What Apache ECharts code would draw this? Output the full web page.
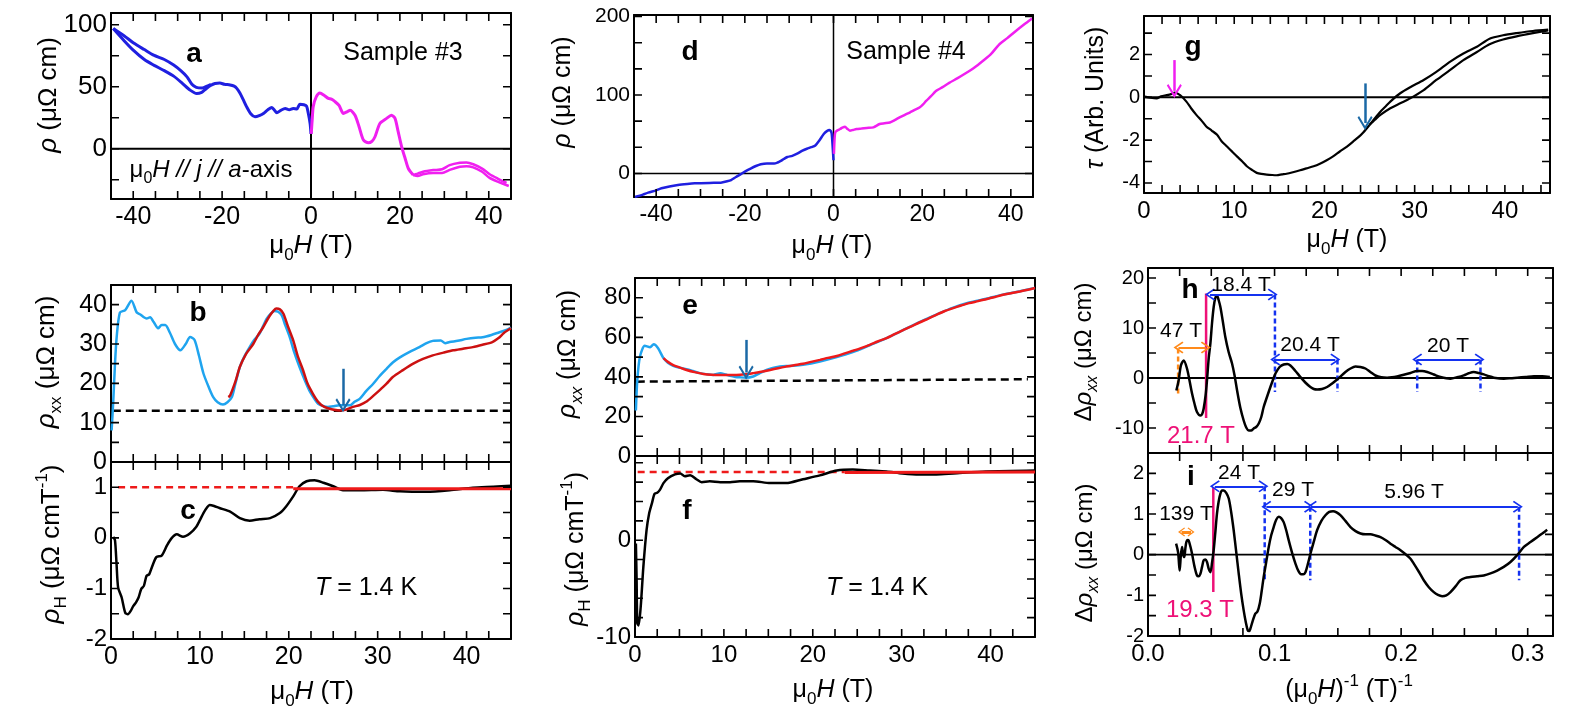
<!DOCTYPE html>
<html>
<head>
<meta charset="utf-8">
<script src="https://cdn.jsdelivr.net/npm/echarts@6.0.0/dist/echarts.min.js"></script>
<style>
  html, body { margin: 0; padding: 0; background: #fff; }
  #main { width: 1592px; height: 719px; }
</style>
</head>
<body>
<div id="main"></div>
<script>
// ---------- data ----------
// a: rho vs field, sample #3
const aBlueUpper = [[-44.5,97],[-42,91],[-40,85.5],[-37.5,80],[-35.4,75.5],[-33,72],[-30.9,67.5],[-29.3,63],[-27.9,58],[-26.8,52],[-25.8,49.5],[-24.5,49],[-23.4,50.5],[-22.5,52]]
const aBlueLower = [[-44.5,97],[-42,87],[-40,79.6],[-37.5,72],[-35.4,67.5],[-33,63],[-30.9,58.6],[-29,53],[-27.2,47.3],[-25.7,44.6],[-24.6,45.5],[-23.8,47.8],[-22.6,51],[-21.6,52.7],[-20.5,53],[-19.5,52],[-18.2,51.5],[-17.3,50.5],[-16.7,48.7],[-16,45],[-15.3,40],[-14.5,34],[-13.5,28],[-12.6,25.8],[-11.5,27],[-10.7,28.5],[-9.7,31.5],[-8.8,33.3],[-8.2,31],[-7.7,29],[-6.8,31],[-5.8,32.5],[-4.9,31.5],[-4.0,32.5],[-3.2,32],[-2.5,36],[-1.6,35.5],[-1.0,34.4],[-0.6,28.5],[-0.2,20.4],[0,12]]
const aPinkMain = [[0.05,12],[0.3,25],[0.5,34],[1.2,42],[2.0,45],[3.0,43],[3.9,40.6],[4.6,40],[5.4,38],[6.3,35],[7.3,28.5],[8.2,30],[8.8,31],[9.9,27],[10.8,18],[11.8,7],[12.9,4.8],[13.7,6],[14.4,9.7],[15.5,20.4],[17.0,24.5],[18.1,27],[18.9,24.5],[19.6,14],[20.4,1.6],[21.2,-8],[21.9,-15.9],[23.0,-21.2]]
const aPinkUpper = [[23.0,-21.2],[24,-20],[25.2,-18.5],[27.5,-17.2],[29.5,-16.5],[31.2,-13.2],[33.5,-11.3],[35,-11],[36.5,-12.5],[38.5,-16],[40.2,-20.5],[42,-24],[44,-27.5]]
const aPinkLower = [[23.0,-21.2],[24,-22],[25.2,-20.5],[27.5,-19.5],[29.5,-19.5],[31.2,-17],[33.5,-14.5],[35,-14],[36.5,-15],[38.5,-18.5],[40.2,-23.5],[42,-26.5],[44.5,-30]]

// b: rho_xx
const bBlue = [[0.07,8],[0.26,15.7],[0.45,25],[0.64,31.8],[1.0,38],[1.6,38.6],[2.3,41],[2.9,38],[3.3,37.5],[3.7,36.8],[4.0,36.5],[4.4,36.8],[4.8,35.6],[5.3,34],[5.7,34.8],[6.1,34.8],[6.6,33],[7.2,30],[7.8,28.4],[8.4,30],[8.9,31.8],[9.4,31],[9.9,27],[10.4,22.5],[11.0,19],[11.5,16.5],[12.0,15.2],[12.6,14.6],[13.1,15.2],[13.6,16.5],[14.0,20],[14.5,24.2],[15.0,26.8],[15.6,29.2],[16.1,31],[16.7,32.6],[17.1,34.5],[17.5,36.4],[18.0,37.8],[18.4,38.4],[18.8,38.2],[19.2,37.3],[19.6,34.8],[20.1,31.8],[20.6,28],[21.2,24.2],[21.8,20.8],[22.4,17.8],[22.9,16],[23.3,14.8],[23.9,14.2],[24.4,14],[25.0,14.2],[25.7,14.4],[26.3,14.4],[26.9,14.4],[27.4,15.3],[28.0,16.1],[28.7,18],[29.5,19.9],[30.2,21.8],[31.0,23.7],[31.7,25.3],[32.5,26.6],[33.6,28],[34.7,29.2],[35.5,30.2],[36.2,30.8],[37.1,30.9],[37.6,30.2],[38.1,30.5],[39.0,30.8],[40.0,31.3],[41.0,31.6],[41.8,31.7],[42.8,32.3],[43.7,33],[44.4,33.5],[45,34.2]]
const bRed = [[13.2,16.5],[13.4,16.9],[14.0,20.5],[14.5,24.2],[15.2,27.5],[16.0,30],[16.6,32.5],[17.1,34.2],[17.8,37],[18.3,38.5],[18.6,39],[19.0,38.8],[19.4,37.7],[19.9,34.5],[20.5,30.9],[21.0,27],[21.6,23.4],[22.1,20],[22.7,17.4],[23.3,15.3],[24.0,14],[24.8,13.4],[25.7,13.1],[26.4,13.3],[27.2,14],[28.0,14.5],[28.7,15.3],[29.5,16.8],[30.2,18.2],[31.0,19.9],[31.7,21.6],[32.8,23.3],[34.0,25],[35.1,26.2],[36.2,27.1],[37.4,27.8],[38.5,28.4],[39.6,28.8],[40.7,29.2],[41.8,29.8],[42.9,30.5],[43.6,31.5],[44.2,32.8],[45,34]]
const bBaseline = [[0.2,13],[45,13]]
const bArrow = [[26.1,23.7],[26.1,14.4]]

// c: Hall
const cBlack = [[0.26,0.02],[0.45,-0.05],[0.62,-0.5],[0.8,-0.98],[1.2,-1.18],[1.6,-1.48],[1.9,-1.51],[2.2,-1.45],[2.5,-1.35],[2.8,-1.28],[3.1,-1.18],[3.4,-1.01],[3.7,-0.95],[4.0,-0.75],[4.3,-0.72],[4.6,-0.58],[5.1,-0.38],[5.7,-0.35],[6.3,-0.15],[6.8,-0.01],[7.4,0.07],[8.1,0.02],[8.9,0.09],[9.6,0.22],[10.0,0.35],[10.4,0.49],[10.8,0.6],[11.1,0.65],[11.6,0.63],[12.2,0.59],[13.4,0.52],[14.5,0.39],[15.6,0.34],[16.7,0.37],[17.9,0.39],[19.0,0.49],[19.7,0.62],[20.5,0.82],[21.2,1.02],[22.0,1.12],[22.9,1.14],[23.9,1.09],[25.0,1.02],[26.1,0.94],[28.0,0.94],[30.6,0.95],[32.5,0.92],[35.5,0.91],[38.1,0.94],[40.7,0.99],[43,1.01],[45,1.03]]
const cFitDashed = [[0.8,1.0],[20.5,1.0]]
const cFitSolid = [[20.5,0.97],[45,0.97]]

// d: rho vs field, sample #4
const dBlue = [[-44.8,-30],[-43,-27],[-41.8,-24.4],[-40,-21.5],[-38.8,-18.9],[-37,-16.5],[-35.1,-14.7],[-33,-13.4],[-31.3,-12.6],[-28,-12],[-25.4,-11.8],[-24,-10],[-23.1,-8.4],[-22,-4.5],[-20.9,-0.8],[-19.8,3],[-18.7,6.3],[-17.5,9.5],[-16.4,11.8],[-15,12.8],[-13.4,12.6],[-12.6,14],[-11.9,16],[-11.2,18.5],[-10.4,21],[-9.3,22.5],[-8.2,25.2],[-7,29],[-6.0,31.5],[-5,33.5],[-4.1,35.7],[-3.2,42],[-2.2,50.4],[-1.5,54],[-0.9,55.5],[-0.6,54],[-0.4,50.4],[-0.2,35],[0,16.8]]
const dPink = [[0.1,25],[0.25,45],[0.4,52.5],[0.9,55],[1.5,56.7],[2.0,58.5],[2.6,59.7],[3.1,57],[3.7,54.6],[4.4,55.5],[5.2,56.7],[6.3,57.3],[7.5,58],[9.0,58.8],[10.4,63],[11.5,64],[12.7,65],[13.8,68],[14.9,71.4],[16,74.5],[17.2,77.7],[18.3,81],[19.4,84],[20.2,88],[20.9,92.4],[22,98.5],[23.1,105],[24.6,110],[26.1,115.5],[28,121.5],[29.9,128],[31.8,135],[33.6,143],[35.5,152],[37.3,164],[39.2,172.5],[41.0,181],[42.9,189.5],[44.8,197.5]]

// e: rho_xx, sample #4
const eBlue = [[0.1,23],[0.26,38.5],[0.56,50.3],[1.1,55.7],[1.7,55],[2.1,56.5],[2.6,54.5],[3.2,49.5],[3.7,47.2],[4.3,45.6],[5.0,44.7],[5.8,43.9],[6.5,43],[7.3,41.9],[8.0,41.4],[8.8,41],[9.6,41.9],[10.2,41.2],[10.7,40.5],[11.3,40],[11.8,39.8],[12.5,39.6],[13.3,40.2],[14.0,41.8],[14.8,43.5],[15.5,44.5],[16.3,45.2],[17.0,45.5],[17.8,45.6],[18.9,46.1],[20.8,47.8],[22.7,50],[24.5,52.5],[26.4,56],[28.3,59.6],[30.1,63.5],[32.0,67.7],[33.9,71.5],[35.8,75],[37.6,77.6],[39.5,79.5],[41.4,81.6],[43.3,83.3],[45,84.9]]
const eRed = [[3.2,49.5],[3.7,47.6],[4.3,46],[5.0,44.8],[5.8,43.5],[6.7,42.4],[7.7,41.5],[8.6,41.1],[9.6,41],[10.5,41],[11.4,41],[12.4,41.3],[13.3,41.9],[14.2,42.6],[15.2,43.5],[16.1,44.4],[17.0,45.2],[17.9,45.9],[18.9,46.6],[19.8,47.6],[20.8,48.6],[21.7,49.6],[22.7,50.6],[23.6,51.9],[24.5,53.2],[25.5,54.7],[26.4,56.2],[27.3,57.9],[28.3,59.6],[29.2,61.6],[30.1,63.5],[31.1,65.5],[32.0,67.5],[33.0,69.5],[33.9,71.4],[34.8,73.2],[35.8,74.8],[36.7,76.1],[37.6,77.3],[38.6,78.3],[39.5,79.3],[40.5,80.4],[41.4,81.5],[42.4,82.4],[43.3,83.2],[44.2,84.1],[45,84.9]]
const eBaseline = [[0.2,37.6],[44.2,38.8]]
const eArrow = [[12.5,58.7],[12.5,42.2]]

// f: Hall, sample #4
const fBlack = [[0.1,-0.34],[0.18,-4],[0.26,-8.6],[0.4,-8.8],[0.64,-6.9],[0.94,-2.76],[1.3,1.03],[1.6,2.8],[1.9,3.8],[2.2,4.8],[2.5,4.9],[2.8,5.2],[3.2,5.9],[3.7,6.4],[4.5,6.8],[5.1,6.9],[5.6,6.6],[6.2,6.7],[6.9,6.3],[7.5,6.0],[8.4,6.1],[9.6,6.0],[10.7,6.0],[11.8,6.1],[13.3,6.1],[15.2,5.9],[17.0,5.9],[18.9,6.3],[20.8,6.7],[22.7,7.2],[24.5,7.3],[26.4,7.2],[28.3,7.1],[30.1,6.9],[32.0,6.8],[33.9,6.8],[35.8,6.9],[39.5,7.1],[45,7.2]]
const fFitDashed = [[0.3,7.05],[23.6,7.05]]
const fFitSolid = [[23.6,7.0],[45,7.05]]

// g: torque
const gCommon = [[0.1,0.03],[0.7,-0.02],[1.4,-0.05],[1.9,0.05],[2.5,0.1],[3.0,0.15],[3.4,0.22],[4.0,0.1],[4.7,-0.2],[5.2,-0.5],[5.8,-0.82],[6.4,-1.1],[6.9,-1.36],[7.5,-1.55],[8.1,-1.75],[8.6,-2.05],[9.2,-2.3],[9.8,-2.55],[10.3,-2.76],[10.9,-3.0],[11.4,-3.22],[12.0,-3.4],[12.5,-3.53],[13.0,-3.58],[13.6,-3.61],[14.2,-3.63],[14.7,-3.64],[15.3,-3.6],[15.8,-3.57],[16.5,-3.5],[17.3,-3.41],[18.0,-3.32],[18.8,-3.22],[19.5,-3.1],[20.2,-2.95],[21.0,-2.75],[21.7,-2.53],[22.5,-2.3],[23.2,-2.06],[23.8,-1.85],[24.3,-1.64],[25.0,-1.29]]
const gUp = [[25.0,-1.29],[25.6,-0.97],[26.2,-0.67],[26.8,-0.42],[27.3,-0.2],[28.4,0.19],[29.5,0.47],[31.0,0.81],[32.4,1.19],[33.9,1.66],[35.4,2.05],[36.9,2.36],[38.3,2.74],[39.8,2.9],[41.3,3.0],[43.1,3.1],[44.8,3.16]]
const gLow = [[25.0,-1.29],[25.6,-1.05],[26.2,-0.82],[27.3,-0.51],[28.4,-0.28],[29.5,-0.05],[31.0,0.34],[32.4,0.81],[33.9,1.27],[35.4,1.74],[36.9,2.12],[38.3,2.48],[39.8,2.7],[41.3,2.85],[43.1,3.0],[44.8,3.13]]
const gPinkArrow = [[3.36,1.74],[3.36,0.3]]
const gBlueArrow = [[24.5,0.65],[24.5,-1.2]]

// h: oscillatory part, sample #3
const hBlack = [[0.0224,-2.5],[0.0242,-0.5],[0.026,2.5],[0.0282,3.5],[0.0308,1.9],[0.0328,-0.5],[0.0348,-3.1],[0.0368,-5.2],[0.0387,-6.8],[0.0414,-7.5],[0.0428,-7.2],[0.044,-6.1],[0.0455,-3.5],[0.0466,-0.5],[0.048,4],[0.0493,6.9],[0.0506,11],[0.0519,14.2],[0.0532,16],[0.0545,16.5],[0.0558,15.6],[0.0572,14.2],[0.059,11.5],[0.0611,8.2],[0.0637,5.2],[0.0664,2.9],[0.0684,0.5],[0.0704,-2.5],[0.073,-6],[0.0756,-8.5],[0.0776,-9.9],[0.0796,-10.5],[0.0815,-10.5],[0.0835,-10.1],[0.0855,-9.8],[0.0875,-9.1],[0.0895,-7.8],[0.0914,-5.8],[0.094,-3.8],[0.0967,-1.8],[0.0987,-0.4],[0.1007,0.9],[0.104,2.2],[0.1072,2.7],[0.11,2.8],[0.1125,2.5],[0.1165,1.4],[0.1204,0.2],[0.1243,-0.9],[0.1283,-1.8],[0.131,-2.2],[0.1336,-2.3],[0.1375,-2.2],[0.1415,-1.8],[0.1455,-1.1],[0.1494,-0.3],[0.156,1.2],[0.16,1.9],[0.1639,2.3],[0.1678,2.2],[0.1718,1.9],[0.1757,1.2],[0.1797,0.5],[0.1843,0.15],[0.1889,0.07],[0.1928,0.15],[0.1968,0.33],[0.2021,0.65],[0.2074,1.0],[0.2127,1.4],[0.2166,1.4],[0.2206,1.2],[0.2258,0.7],[0.2311,0.2],[0.239,-0.13],[0.2442,0.15],[0.2495,0.53],[0.2534,0.95],[0.2574,1.2],[0.2613,1.0],[0.2653,0.73],[0.2693,0.35],[0.2733,0.07],[0.2812,-0.13],[0.2864,-0.05],[0.2917,0.07],[0.2983,0.2],[0.3049,0.33],[0.3115,0.35],[0.3175,0.2]]
const hOrangeMark = [[0.0238,-3.1],[0.0238,6.1]]
const hOrangeArrow = [[0.0241,6.1],[0.0457,6.1]]
const hPinkMark = [[0.0459,16.9],[0.0459,-8.0]]
const hBlueArrows = [[[0.049,16.7],[0.0985,16.7]],[[0.1005,3.7],[0.148,3.7]],[[0.2127,3.7],[0.262,3.7]]]
const hBlueMarks = [[[0.1003,16.7],[0.1003,-2.8]],[[0.1497,3.7],[0.1497,-2.8]],[[0.2127,3.7],[0.2127,-2.8]],[[0.2627,3.7],[0.2627,-2.8]]]

// i: oscillatory part, sample #4
const iBlack = [[0.0222,0.27],[0.0238,0.05],[0.025,-0.39],[0.026,0.0],[0.0269,0.19],[0.0278,0.0],[0.0287,-0.06],[0.0295,0.15],[0.0303,0.31],[0.0312,0.36],[0.0321,0.35],[0.0335,0.2],[0.0348,0.02],[0.0368,-0.3],[0.0387,-0.51],[0.04,-0.53],[0.0414,-0.47],[0.0427,-0.3],[0.044,-0.14],[0.0453,-0.12],[0.0466,-0.18],[0.048,-0.35],[0.0493,-0.43],[0.0506,-0.2],[0.0519,0.11],[0.0532,0.55],[0.0545,1.01],[0.0558,1.3],[0.0572,1.5],[0.0585,1.58],[0.0598,1.58],[0.0618,1.52],[0.0638,1.38],[0.0657,1.05],[0.0677,0.6],[0.0697,0.07],[0.0717,-0.47],[0.0736,-0.95],[0.0756,-1.37],[0.0772,-1.65],[0.0788,-1.86],[0.0799,-1.88],[0.0809,-1.82],[0.0828,-1.62],[0.0848,-1.45],[0.0865,-1.4],[0.0883,-1.2],[0.0898,-0.9],[0.0914,-0.55],[0.0934,-0.18],[0.0954,0.19],[0.0973,0.47],[0.0993,0.68],[0.1013,0.86],[0.1033,0.93],[0.1052,0.9],[0.1072,0.8],[0.1092,0.6],[0.1112,0.35],[0.1138,0.05],[0.1165,-0.22],[0.1188,-0.4],[0.121,-0.48],[0.1227,-0.48],[0.1244,-0.43],[0.1264,-0.22],[0.1283,0.02],[0.131,0.32],[0.1336,0.6],[0.137,0.83],[0.1402,0.97],[0.1432,1.05],[0.1462,1.07],[0.149,1.04],[0.152,0.97],[0.156,0.83],[0.16,0.68],[0.164,0.58],[0.1679,0.52],[0.1718,0.5],[0.1758,0.5],[0.1797,0.47],[0.1837,0.43],[0.1876,0.36],[0.1916,0.27],[0.1955,0.19],[0.1995,0.11],[0.2047,-0.02],[0.2074,-0.1],[0.21,-0.22],[0.214,-0.42],[0.2179,-0.63],[0.2219,-0.8],[0.2258,-0.92],[0.2291,-0.99],[0.2324,-1.02],[0.2357,-1.0],[0.239,-0.92],[0.243,-0.78],[0.2469,-0.63],[0.2508,-0.57],[0.2548,-0.55],[0.26,-0.53],[0.2653,-0.51],[0.2706,-0.46],[0.2759,-0.39],[0.2811,-0.3],[0.2864,-0.18],[0.2917,-0.01],[0.297,0.19],[0.3022,0.31],[0.3075,0.43],[0.3115,0.52],[0.3154,0.61]]
const iOrangeArrow = [[0.0265,0.56],[0.034,0.56]]
const iPinkMark = [[0.0516,1.66],[0.0516,-0.92]]
const iBlueArrows = [[[0.0528,1.68],[0.0912,1.68]],[[0.0935,1.18],[0.1272,1.18]],[[0.1295,1.18],[0.2922,1.18]]]
const iBlueMarks = [[[0.0922,1.68],[0.0922,-0.63]],[[0.1282,1.18],[0.1282,-0.63]],[[0.2932,1.18],[0.2932,-0.63]]]

// tick labels
const aXLabels = [-40, -20, 0, 20, 40], aYLabels = [0, 50, 100]
const bYLabels = [0, 10, 20, 30, 40]
const cXLabels = [0, 10, 20, 30, 40], cYLabels = [-2, -1, 0, 1]
const dXLabels = [-40, -20, 0, 20, 40], dYLabels = [0, 100, 200]
const eYLabels = [0, 20, 40, 60, 80]
const fXLabels = [0, 10, 20, 30, 40], fYLabels = [-10, 0]
const gXLabels = [0, 10, 20, 30, 40], gYLabels = [-4, -2, 0, 2]
const hYLabels = [-10, 0, 10, 20]
const iXLabels = [0, 0.1, 0.2, 0.3], iYLabels = [-2, -1, 0, 1, 2]
const dYTicks = [0, 33.33, 66.67, 100, 133.33, 166.67, 200]

// ---------- layout ----------
const FONT = '"Liberation Sans", Arial, Helvetica, sans-serif'
const grids = [
  { left: 111, top: 13, width: 400, height: 186 },   // a
  { left: 111, top: 285, width: 400, height: 177 },  // b
  { left: 111, top: 462, width: 400, height: 177 },  // c
  { left: 634, top: 15, width: 399, height: 182 },   // d
  { left: 635, top: 278, width: 400, height: 178 },  // e
  { left: 635, top: 456, width: 400, height: 181 },  // f
  { left: 1144, top: 16, width: 406, height: 177 },  // g
  { left: 1148, top: 268, width: 405, height: 185 }, // h
  { left: 1148, top: 453, width: 405, height: 183 }  // i
].map(g => Object.assign({ outerBoundsMode: 'none', containLabel: false }, g))

function steps (a, b, st) {
  const out = []
  for (let v = a; v <= b + 1e-9; v += st) out.push(Math.round(v * 10000) / 10000)
  return out
}

const xAxes = []
const yAxes = []
const series = []
const TICK = 8

function curve (g, data, color, width, extra) {
  series.push(Object.assign({
    type: 'line', xAxisIndex: 2 * g, yAxisIndex: 2 * g, data: data, symbol: 'none', showSymbol: false,
    smooth: 0.25, silent: true, animation: false, z: 3, lineStyle: { color: color, width: width }
  }, extra || {}))
}
function seg (g, data, color, width, dash, z) {
  curve(g, data, color, width, { smooth: false, z: z || 2, lineStyle: { color: color, width: width, type: dash || 'solid' } })
}

// inward ticks on all four sides; each is a short two-point line in data space
function addTicks (g, p) {
  const gr = grids[g]
  const dy = (p.y[1] - p.y[0]) * TICK / gr.height
  const dx = (p.x[1] - p.x[0]) * TICK / gr.width
  p.xt.forEach(v => {
    seg(g, [[v, p.y[0]], [v, p.y[0] + dy]], '#000', 1.6, 'solid', 6)
    seg(g, [[v, p.y[1]], [v, p.y[1] - dy]], '#000', 1.6, 'solid', 6)
  })
  p.yt.forEach(v => {
    seg(g, [[p.x[0], v], [p.x[0] + dx, v]], '#000', 1.6, 'solid', 6)
    seg(g, [[p.x[1], v], [p.x[1] - dx, v]], '#000', 1.6, 'solid', 6)
  })
}

function addAxes (g, p) {
  const line = { show: true, onZero: false, lineStyle: { color: '#000', width: 2 } }
  const lab = (vals, fs, fmt, margin) => vals
    ? { show: true, customValues: vals, fontSize: fs, fontFamily: FONT, color: '#000', margin: margin, formatter: fmt || (v => String(v)) }
    : { show: false }
  const base = { type: 'value', gridIndex: g, splitLine: { show: false }, axisLine: line, axisTick: { show: false } }
  xAxes.push(Object.assign({}, base, { position: 'bottom', min: p.x[0], max: p.x[1], axisLabel: lab(p.xl, p.xfs, p.xfmt, 6) }))
  xAxes.push(Object.assign({}, base, { position: 'top', min: p.x[0], max: p.x[1], axisLabel: { show: false } }))
  yAxes.push(Object.assign({}, base, { position: 'left', min: p.y[0], max: p.y[1], axisLabel: lab(p.yl, p.yfs, null, 4) }))
  yAxes.push(Object.assign({}, base, { position: 'right', min: p.y[0], max: p.y[1], axisLabel: { show: false } }))
  addTicks(g, p)
}

addAxes(0, { x: [-45, 45], xt: steps(-45, 45, 5), xl: aXLabels, xfs: 25, y: [-40.5, 109.5], yt: steps(-25, 100, 25), yl: aYLabels, yfs: 26 })
addAxes(1, { x: [0, 45], xt: steps(0, 45, 2.5), xl: null, y: [0, 45], yt: steps(0, 45, 5), yl: bYLabels, yfs: 25 })
addAxes(2, { x: [0, 45], xt: steps(0, 45, 2.5), xl: cXLabels, xfs: 25, y: [-2, 1.5], yt: steps(-2, 1.5, 0.5), yl: cYLabels, yfs: 24 })
addAxes(3, { x: [-45, 45], xt: steps(-45, 45, 5), xl: dXLabels, xfs: 23, y: [-30, 202], yt: dYTicks, yl: dYLabels, yfs: 21 })
addAxes(4, { x: [0, 45], xt: steps(0, 45, 2.5), xl: null, y: [0, 90], yt: steps(0, 90, 10), yl: eYLabels, yfs: 24 })
addAxes(5, { x: [0, 45], xt: steps(0, 45, 2.5), xl: fXLabels, xfs: 24, y: [-10, 8.7], yt: steps(-10, 8, 2), yl: fYLabels, yfs: 24 })
addAxes(6, { x: [0, 45], xt: steps(0, 44, 2), xl: gXLabels, xfs: 24, y: [-4.47, 3.8], yt: steps(-4, 3, 1), yl: gYLabels, yfs: 20 })
addAxes(7, { x: [0, 0.32], xt: steps(0, 0.3, 0.025), xl: null, y: [-15, 22], yt: steps(-15, 20, 5), yl: hYLabels, yfs: 20 })
addAxes(8, { x: [0, 0.32], xt: steps(0, 0.3, 0.025), xl: iXLabels, xfs: 24, xfmt: v => v.toFixed(1), y: [-2, 2.5], yt: steps(-2, 2.5, 0.5), yl: iYLabels, yfs: 20 })

// ---------- series ----------
const HEAD = 'path://M0,0L9,11L7.2,12.4L0,3.6L-7.2,12.4L-9,11Z'
function arrow (g, pts, color, width, both, size) {
  series.push({
    type: 'line', xAxisIndex: 2 * g, yAxisIndex: 2 * g, data: pts, symbol: 'none', silent: true, animation: false,
    lineStyle: { opacity: 0 }, z: 4,
    markLine: {
      silent: true, animation: false, symbol: [both ? HEAD : 'none', HEAD], symbolSize: size || [11, 10],
      label: { show: false }, emphasis: { disabled: true },
      lineStyle: { color: color, width: width, type: 'solid', opacity: 1 },
      data: [[{ coord: pts[0] }, { coord: pts[1] }]]
    }
  })
}

const BLUE = '#1f1fe0', PINK = '#f01ff0', LBLUE = '#1fa4ef', DRED = '#cc1111', RED = '#ee1a1a'
const ARROW = '#1b69a6', ANNB = '#1432f0', ORANGE = '#ff8a1a', MAG = '#ee1177'

// a
seg(0, [[-45, 0], [45, 0]], '#000', 2)
seg(0, [[0, -40.5], [0, 109.5]], '#000', 2)
curve(0, aBlueUpper, BLUE, 3)
curve(0, aBlueLower, BLUE, 3)
curve(0, aPinkMain, PINK, 3)
curve(0, aPinkUpper, PINK, 2.5)
curve(0, aPinkLower, PINK, 2.5)
// b
seg(1, bBaseline, '#000', 2.5, [8, 5])
curve(1, bBlue, LBLUE, 2.5)
curve(1, bRed, DRED, 2.5)
arrow(1, bArrow, ARROW, 2.5, false, [15, 14])
// c
seg(2, cFitDashed, RED, 2.5, [7, 5])
curve(2, cBlack, '#000', 2.5)
seg(2, cFitSolid, RED, 3, 'solid', 4)
// d
seg(3, [[-45, 0], [45, 0]], '#000', 1.5)
seg(3, [[0, -30], [0, 202]], '#000', 1.5)
curve(3, dBlue, BLUE, 2.5)
curve(3, dPink, PINK, 2.5)
// e
seg(4, eBaseline, '#000', 2.5, [8, 5])
curve(4, eBlue, LBLUE, 2.5)
curve(4, eRed, RED, 2.5)
arrow(4, eArrow, ARROW, 2.5, false, [15, 14])
// f
seg(5, fFitDashed, RED, 2.5, [7, 5])
curve(5, fBlack, '#000', 2.5)
seg(5, fFitSolid, RED, 3, 'solid', 4)
// g
seg(6, [[0, 0], [45, 0]], '#000', 2)
curve(6, gCommon, '#000', 2.2)
curve(6, gUp, '#000', 2.2)
curve(6, gLow, '#000', 2.2)
arrow(6, gPinkArrow, PINK, 2.5, false, [15, 14])
arrow(6, gBlueArrow, ARROW, 2.5, false, [15, 14])
// h
seg(7, [[0, 0], [0.32, 0]], '#000', 1.8)
curve(7, hBlack, '#000', 2.5, { smooth: 0.3 })
seg(7, hOrangeMark, ORANGE, 2.5, [5, 3])
arrow(7, hOrangeArrow, ORANGE, 2, true, [12, 10])
seg(7, hPinkMark, MAG, 2.5)
hBlueMarks.forEach(m => seg(7, m, ANNB, 2.5, [5, 3]))
hBlueArrows.forEach(a => arrow(7, a, ANNB, 2, true, [12, 10]))
// i
seg(8, [[0, 0], [0.32, 0]], '#000', 1.8)
curve(8, iBlack, '#000', 2.5, { smooth: 0.3 })
arrow(8, iOrangeArrow, ORANGE, 3, true, [9, 7])
seg(8, iPinkMark, MAG, 2.5)
iBlueMarks.forEach(m => seg(8, m, ANNB, 2.5, [5, 3]))
iBlueArrows.forEach(a => arrow(8, a, ANNB, 2, true, [12, 10]))

// ---------- text ----------
function rich (fs, color) {
  const L = Math.round(fs * 1.38)
  const s = Math.round(fs * 0.66)
  return {
    n: { fontSize: fs, fontFamily: FONT, lineHeight: L, fill: color },
    i: { fontSize: fs, fontFamily: FONT, fontStyle: 'italic', lineHeight: L, fill: color },
    b: { fontSize: fs, fontFamily: FONT, fontWeight: 'bold', lineHeight: L, fill: color },
    s: { fontSize: s, fontFamily: FONT, lineHeight: s, verticalAlign: 'bottom', fill: color },
    si: { fontSize: s, fontFamily: FONT, fontStyle: 'italic', lineHeight: s, verticalAlign: 'bottom', fill: color },
    p: { fontSize: s, fontFamily: FONT, lineHeight: s, verticalAlign: 'top', fill: color }
  }
}
function txt (x, y, text, fs, color, rot) {
  color = color || '#000'
  return {
    type: 'text', x: x, y: y, rotation: rot || 0, silent: true, z: 100,
    style: { text: text, rich: rich(fs, color), fill: color, fontSize: fs, fontFamily: FONT, align: 'center', verticalAlign: 'middle' }
  }
}
const R = Math.PI / 2
const texts = [
  // panel letters
  txt(194, 54, '{b|a}', 28), txt(198, 313, '{b|b}', 28), txt(188, 511, '{b|c}', 28),
  txt(690, 52, '{b|d}', 28), txt(690, 306, '{b|e}', 28), txt(687, 511, '{b|f}', 28),
  txt(1193, 47, '{b|g}', 28), txt(1190, 290, '{b|h}', 28), txt(1191, 477, '{b|i}', 28),
  // axis titles
  txt(49, 95, '{i|ρ}{n| (μΩ cm)}', 26, null, R),
  txt(47, 362, '{i|ρ}{s|xx}{n| (μΩ cm)}', 26, null, R),
  txt(52, 544, '{i|ρ}{s|H}{n| (μΩ cmT}{p|-1}{n|)}', 26, null, R),
  txt(563, 92, '{i|ρ}{n| (μΩ cm)}', 25, null, R),
  txt(568, 354, '{i|ρ}{si|xx}{n| (μΩ cm)}', 25, null, R),
  txt(576, 549, '{i|ρ}{s|H}{n| (μΩ cmT}{p|-1}{n|)}', 25, null, R),
  txt(1096, 98, '{i|τ}{n| (Arb. Units)}', 25, null, R),
  txt(1084, 352, '{n|Δ}{i|ρ}{si|xx}{n| (μΩ cm)}', 24, null, R),
  txt(1085, 553, '{n|Δ}{i|ρ}{si|xx}{n| (μΩ cm)}', 24, null, R),
  txt(311, 246, '{n|μ}{s|0}{i|H}{n| (T)}', 26),
  txt(312, 692, '{n|μ}{s|0}{i|H}{n| (T)}', 26),
  txt(832, 246, '{n|μ}{s|0}{i|H}{n| (T)}', 25),
  txt(833, 690, '{n|μ}{s|0}{i|H}{n| (T)}', 25),
  txt(1347, 240, '{n|μ}{s|0}{i|H}{n| (T)}', 25),
  txt(1349, 690, '{n|(μ}{s|0}{i|H}{n|)}{p|-1}{n| (T)}{p|-1}', 25),
  // annotations
  txt(403, 53, '{n|Sample #3}', 25),
  txt(211, 170, '{n|μ}{s|0}{i|H // j // a}{n|-axis}', 24),
  txt(906, 52, '{n|Sample #4}', 25),
  txt(366, 588, '{i|T}{n| = 1.4 K}', 25),
  txt(877, 588, '{i|T}{n| = 1.4 K}', 25),
  txt(1181, 331, '{n|47 T}', 21),
  txt(1241, 285, '{n|18.4 T}', 21),
  txt(1310, 345, '{n|20.4 T}', 21),
  txt(1448, 346, '{n|20 T}', 21),
  txt(1201, 436, '{n|21.7 T}', 24, MAG),
  txt(1239, 473, '{n|24 T}', 21),
  txt(1293, 490, '{n|29 T}', 21),
  txt(1186, 514, '{n|139 T}', 21),
  txt(1414, 492, '{n|5.96 T}', 21),
  txt(1200, 610, '{n|19.3 T}', 24, MAG)
]

const chart = echarts.init(document.getElementById('main'), null, { renderer: 'canvas' })
chart.setOption({
  animation: false,
  backgroundColor: '#fff',
  grid: grids,
  xAxis: xAxes,
  yAxis: yAxes,
  series: series,
  graphic: { elements: texts }
})
</script>
</body>
</html>
